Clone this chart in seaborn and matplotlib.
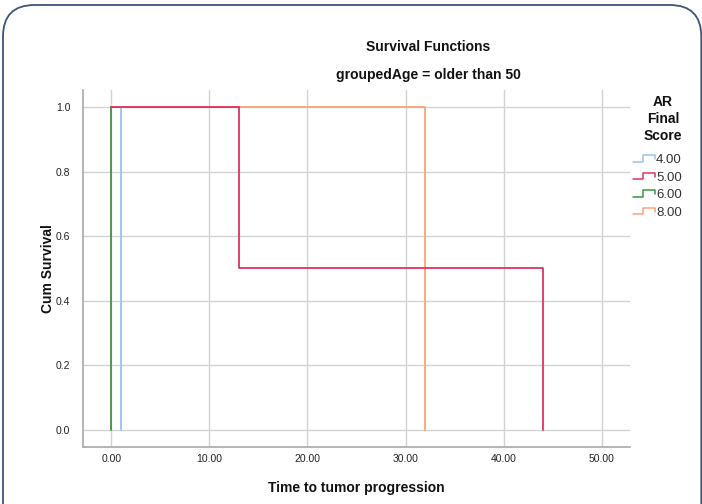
import matplotlib
matplotlib.use("Agg")
import matplotlib.pyplot as plt
import seaborn as sns
import pandas as pd
from matplotlib.lines import Line2D
from matplotlib.legend_handler import HandlerBase
from matplotlib.patches import FancyBboxPatch

# Kaplan-Meier step points per AR final score group (time, cumulative survival)
groups = ["4.00", "5.00", "6.00", "8.00"]
times_4 = [0.0, 1.0]
surv_4 = [1.0, 0.0]
times_5 = [0.0, 13.0, 44.0]
surv_5 = [1.0, 0.5, 0.0]
times_6 = [0.0, 0.0]
surv_6 = [1.0, 0.0]
times_8 = [0.0, 32.0]
surv_8 = [1.0, 0.0]

x_ticks = [0, 10, 20, 30, 40, 50]
y_ticks = [0.0, 0.2, 0.4, 0.6, 0.8, 1.0]

colors = {"4.00": "#9cc1ec", "5.00": "#e0325f", "6.00": "#3d9440", "8.00": "#f8a57a"}
layer = {"8.00": 2, "4.00": 3, "6.00": 4, "5.00": 5}

series = {"4.00": (times_4, surv_4), "5.00": (times_5, surv_5),
          "6.00": (times_6, surv_6), "8.00": (times_8, surv_8)}

sns.set_theme(style="white")
plt.rcParams["font.family"] = ["Liberation Sans", "DejaVu Sans"]

fig = plt.figure(figsize=(7.02, 5.04), dpi=100)
ax = fig.add_axes([83 / 702, 57 / 504, 547 / 702, 357 / 504])

for g in groups:
    t, s = series[g]
    df = pd.DataFrame({"time": t, "surv": s})
    sns.lineplot(data=df, x="time", y="surv", estimator=None, sort=False,
                 drawstyle="steps-post", color=colors[g], linewidth=1.3,
                 ax=ax, zorder=layer[g], legend=False)

ax.set_xlim(-2.9, 52.9)
ax.set_ylim(-0.053, 1.053)
ax.set_xticks(x_ticks)
ax.set_xticklabels([f"{v:.2f}" for v in x_ticks], fontsize=7.5)
ax.set_yticks(y_ticks)
ax.set_yticklabels([f"{v:.1f}" for v in y_ticks], fontsize=7.5)
ax.tick_params(axis="both", length=0, colors="#222222")
ax.tick_params(axis="y", pad=9)
ax.tick_params(axis="x", pad=5)
ax.grid(True, color="#d2d2d2", linewidth=1.0)
ax.set_axisbelow(True)
for side in ["top", "right"]:
    ax.spines[side].set_visible(False)
for side in ["left", "bottom"]:
    ax.spines[side].set_color("#a8a8a8")
    ax.spines[side].set_linewidth(1.2)

ax.set_xlabel("Time to tumor progression", fontsize=10, fontweight="bold",
              labelpad=12, color="#111111")
ax.set_ylabel("Cum Survival", fontsize=10, fontweight="bold",
              labelpad=1, color="#111111")

fig.text(428 / 702, 1 - 47 / 504, "Survival Functions", ha="center",
         va="center", fontsize=10, fontweight="bold", color="#111111")
fig.text(428 / 702, 1 - 75 / 504, "groupedAge = older than 50", ha="center",
         va="center", fontsize=10, fontweight="bold", color="#111111")


class StepHandler(HandlerBase):
    """Legend key drawn as a small step glyph."""

    def create_artists(self, legend, orig_handle, xdescent, ydescent,
                       width, height, fontsize, trans):
        lo = height * 0.15 - ydescent
        hi = height * 0.85 - ydescent
        x0 = -xdescent
        xs = [x0, x0 + width * 0.45, x0 + width * 0.45, x0 + width, x0 + width]
        ys = [lo, lo, hi, hi, lo + (hi - lo) * 0.35]
        line = Line2D(xs, ys, color=orig_handle.get_color(), linewidth=1.1,
                      transform=trans)
        return [line]


# legend heading, stacked and centred above the keys
fig.text(663 / 702, 1 - 119 / 504, "AR\nFinal\nScore", ha="center",
         va="center", fontsize=10, fontweight="bold", color="#111111",
         linespacing=1.25, multialignment="center")

handles = [Line2D([], [], color=colors[g]) for g in groups]
leg = fig.legend(handles, groups, loc="upper left",
                 bbox_to_anchor=(621 / 702, 1 - 142 / 504),
                 frameon=False, fontsize=9.5,
                 handler_map={Line2D: StepHandler()},
                 handlelength=1.7, handletextpad=0.05, labelspacing=0.4)
for txt in leg.get_texts():
    txt.set_color("#333333")

# rounded frame around the figure
frame = FancyBboxPatch((3 / 702, -0.2), 698.3 / 702, 1.2 - 5 / 504,
                       boxstyle="round,pad=0,rounding_size=0.045",
                       transform=fig.transFigure, fill=False,
                       edgecolor="#3c5478", linewidth=1.3,
                       mutation_aspect=702 / 504)
fig.patches.append(frame)

fig.savefig("out.png", dpi=100)
